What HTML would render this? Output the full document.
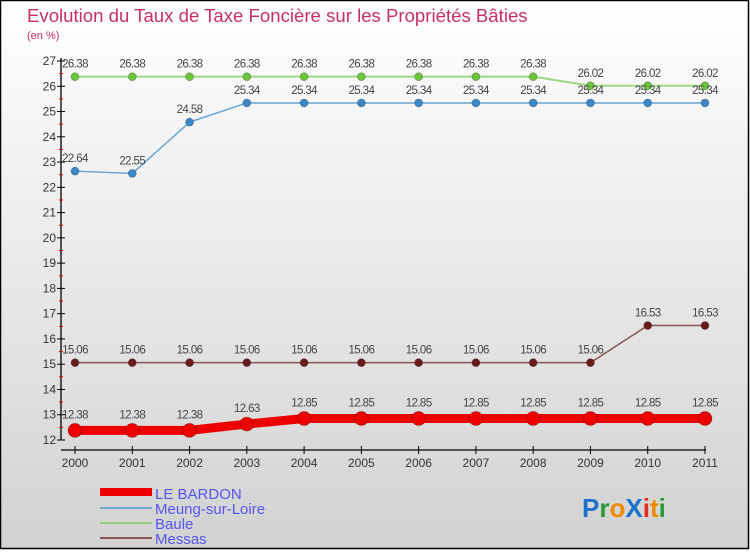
<!DOCTYPE html>
<html><head><meta charset="utf-8"><style>
html,body{margin:0;padding:0}
body{width:750px;height:550px;overflow:hidden;font-family:"Liberation Sans",sans-serif}
svg text{font-family:"Liberation Sans",sans-serif}
</style></head><body>
<svg id="chart" width="750" height="550" xmlns="http://www.w3.org/2000/svg">
<defs><linearGradient id="bg" x1="0" y1="0" x2="0" y2="1"><stop offset="0" stop-color="#ffffff"/><stop offset="1" stop-color="#d2d2d2"/></linearGradient></defs>
<rect x="0.5" y="0.5" width="748" height="548" fill="url(#bg)" stroke="#000" stroke-width="1.5"/>
<text x="27" y="22" font-size="18.6" fill="#c8305f">Evolution du Taux de Taxe Foncière sur les Propriétés Bâties</text>
<text x="27" y="39" font-size="11" fill="#c8305f">(en %)</text>
<g id="axes"></g><g id="series"></g>
<g>
<rect x="100" y="488" width="52" height="8" fill="#ee0000"/>
<text x="155" y="499" font-size="15" fill="#5555ee">LE BARDON</text>
<line x1="100" y1="508" x2="152" y2="508" stroke="#6fa8d0" stroke-width="2"/>
<text x="155" y="514" font-size="15" fill="#5555ee">Meung-sur-Loire</text>
<line x1="100" y1="523" x2="152" y2="523" stroke="#8fd07a" stroke-width="2"/>
<text x="155" y="529" font-size="15" fill="#5555ee">Baule</text>
<line x1="100" y1="538" x2="152" y2="538" stroke="#8b5555" stroke-width="2"/>
<text x="155" y="544" font-size="15" fill="#5555ee">Messas</text>
</g>
<text x="582" y="517" font-size="26" font-weight="bold"><tspan fill="#1a73c9">P</tspan><tspan fill="#2a9a3a">r</tspan><tspan fill="#f08a00">o</tspan><tspan fill="#1a73c9">X</tspan><tspan fill="#e03020">i</tspan><tspan fill="#f08a00">t</tspan><tspan fill="#2a9a3a">i</tspan></text>
</svg>
<script>
const years=["2000","2001","2002","2003","2004","2005","2006","2007","2008","2009","2010","2011"];
const leBardon=[12.38,12.38,12.38,12.63,12.85,12.85,12.85,12.85,12.85,12.85,12.85,12.85];
const meung=[22.64,22.55,24.58,25.34,25.34,25.34,25.34,25.34,25.34,25.34,25.34,25.34];
const baule=[26.38,26.38,26.38,26.38,26.38,26.38,26.38,26.38,26.38,26.02,26.02,26.02];
const messas=[15.06,15.06,15.06,15.06,15.06,15.06,15.06,15.06,15.06,15.06,16.53,16.53];
const yTicks=[12,13,14,15,16,17,18,19,20,21,22,23,24,25,26,27];
const NS="http://www.w3.org/2000/svg";
const xs=i=>75+i*(630/11);
const ys=v=>440-(v-12)*(379/15);
function mk(tag,attrs,parent){const e=document.createElementNS(NS,tag);for(const k in attrs)e.setAttribute(k,attrs[k]);parent.appendChild(e);return e;}
const ax=document.getElementById('axes');
let l=mk('line',{x1:61,y1:ys(27)-3,x2:61,y2:ys(12),stroke:'#000','stroke-width':1.3},ax);


yTicks.forEach(t=>{
 mk('line',{x1:57,y1:ys(t),x2:65,y2:ys(t),stroke:'#000'},ax);
 if(t<27) mk('line',{x1:59,y1:ys(t+0.5),x2:63,y2:ys(t+0.5),stroke:'#e00'},ax);
 const tx=mk('text',{x:56,y:ys(t)+4,'font-size':12,fill:'#333','text-anchor':'end'},ax);tx.textContent=t;
 
 
});
l=mk('line',{x1:61,y1:450,x2:xs(11)+1,y2:450,stroke:'#000','stroke-width':1.3},ax);


years.forEach((y,i)=>{
 mk('line',{x1:xs(i),y1:446,x2:xs(i),y2:454,stroke:'#000'},ax);
 const tx=mk('text',{x:xs(i),y:467,'font-size':12,fill:'#333','text-anchor':'middle'},ax);tx.textContent=y;
 
 
});
const sg=document.getElementById('series');
function series(name,data,color,lw,r,dotColor){
 const g=mk('g',{},sg);
 
 
 const pl=mk('polyline',{points:data.map((v,i)=>xs(i)+','+ys(v)).join(' '),fill:'none',stroke:color,'stroke-width':lw,'stroke-linejoin':'round'},g);
 
 
 data.forEach((v,i)=>{
  const c=mk('circle',{cx:xs(i),cy:ys(v),r:r,fill:dotColor,stroke:'rgba(0,0,0,0.3)','stroke-width':0.7},g);
  
  
  const t=mk('text',{x:xs(i),y:ys(v)-(r+5),'font-size':11.5,fill:'#444','text-anchor':'middle','letter-spacing':'-0.6'},g);
  t.textContent=v.toFixed(2);
  
  
 });
}
series('baule',baule,'#9ad884',2,4,'#6cc43c');
series('meung-sur-loire',meung,'#6aa6d4',1.5,4,'#3b88c8');
series('messas',messas,'#8b5555',1.5,4,'#6a1a1a');
series('le-bardon',leBardon,'#ee0000',9,7,'#ee0000');
</script>
</body></html>
